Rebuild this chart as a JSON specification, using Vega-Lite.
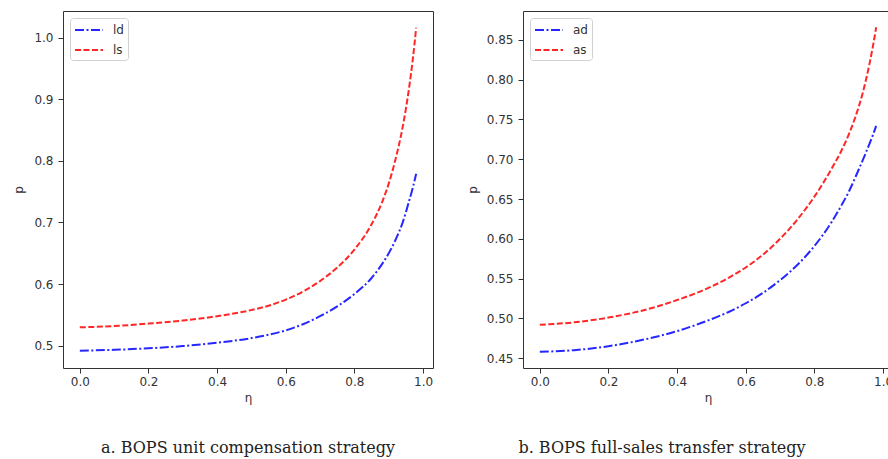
{
  "$schema": "https://vega.github.io/schema/vega-lite/v6.json",
  "background": "white",
  "padding": {"left": 12, "top": 10, "right": 0, "bottom": 0},
  "config": {
    "view": {"stroke": "#333333", "strokeWidth": 1},
    "font": "DejaVu Sans",
    "axis": {
      "grid": false, "domain": false, "tickColor": "#333333", "tickSize": 5,
      "labelColor": "#333333", "labelFontSize": 12, "labelFont": "DejaVu Sans", "labelPadding": 5,
      "titleColor": "#333333", "titleFontSize": 12, "titleFont": "DejaVu Sans", "titleFontWeight": "normal"
    },
    "axisX": {"labelPadding": 3},
    "legend": {
      "orient": "top-left", "offset": 7, "fillColor": "white", "strokeColor": "#d0d0d0",
      "cornerRadius": 3, "padding": 4, "labelFontSize": 12, "labelColor": "#333333",
      "labelFont": "DejaVu Sans", "symbolType": "M-1,0L3,0", "symbolSize": 196, "symbolStrokeWidth": 2,
      "rowPadding": 6, "labelOffset": 23
    },
    "title": {"font": "DejaVu Serif", "fontSize": 16, "fontWeight": "normal", "color": "#222222", "orient": "bottom", "anchor": "middle"}
  },
  "datasets": {
    "left": [
      {"eta": 0.0, "p": 0.492, "s": "ld"}, {"eta": 0.1, "p": 0.4935, "s": "ld"}, {"eta": 0.2, "p": 0.496, "s": "ld"},
      {"eta": 0.3, "p": 0.4995, "s": "ld"}, {"eta": 0.4, "p": 0.505, "s": "ld"}, {"eta": 0.5, "p": 0.5125, "s": "ld"},
      {"eta": 0.55, "p": 0.518, "s": "ld"}, {"eta": 0.6, "p": 0.525, "s": "ld"}, {"eta": 0.65, "p": 0.535, "s": "ld"},
      {"eta": 0.7, "p": 0.548, "s": "ld"}, {"eta": 0.75, "p": 0.564, "s": "ld"}, {"eta": 0.8, "p": 0.584, "s": "ld"},
      {"eta": 0.85, "p": 0.610, "s": "ld"}, {"eta": 0.88, "p": 0.632, "s": "ld"}, {"eta": 0.9, "p": 0.650, "s": "ld"},
      {"eta": 0.92, "p": 0.672, "s": "ld"}, {"eta": 0.94, "p": 0.699, "s": "ld"}, {"eta": 0.96, "p": 0.736, "s": "ld"},
      {"eta": 0.97, "p": 0.756, "s": "ld"}, {"eta": 0.98, "p": 0.779, "s": "ld"},
      {"eta": 0.0, "p": 0.530, "s": "ls"}, {"eta": 0.1, "p": 0.532, "s": "ls"}, {"eta": 0.2, "p": 0.536, "s": "ls"},
      {"eta": 0.3, "p": 0.541, "s": "ls"}, {"eta": 0.4, "p": 0.548, "s": "ls"}, {"eta": 0.5, "p": 0.558, "s": "ls"},
      {"eta": 0.55, "p": 0.565, "s": "ls"}, {"eta": 0.6, "p": 0.575, "s": "ls"}, {"eta": 0.65, "p": 0.588, "s": "ls"},
      {"eta": 0.7, "p": 0.605, "s": "ls"}, {"eta": 0.75, "p": 0.627, "s": "ls"}, {"eta": 0.8, "p": 0.656, "s": "ls"},
      {"eta": 0.85, "p": 0.697, "s": "ls"}, {"eta": 0.88, "p": 0.732, "s": "ls"}, {"eta": 0.9, "p": 0.763, "s": "ls"},
      {"eta": 0.92, "p": 0.803, "s": "ls"}, {"eta": 0.94, "p": 0.853, "s": "ls"}, {"eta": 0.96, "p": 0.921, "s": "ls"},
      {"eta": 0.97, "p": 0.964, "s": "ls"}, {"eta": 0.98, "p": 1.016, "s": "ls"}
    ],
    "right": [
      {"eta": 0.0, "p": 0.458, "s": "ad"}, {"eta": 0.1, "p": 0.460, "s": "ad"}, {"eta": 0.2, "p": 0.465, "s": "ad"},
      {"eta": 0.3, "p": 0.473, "s": "ad"}, {"eta": 0.4, "p": 0.484, "s": "ad"}, {"eta": 0.5, "p": 0.499, "s": "ad"},
      {"eta": 0.55, "p": 0.508, "s": "ad"}, {"eta": 0.6, "p": 0.519, "s": "ad"}, {"eta": 0.65, "p": 0.532, "s": "ad"},
      {"eta": 0.7, "p": 0.548, "s": "ad"}, {"eta": 0.75, "p": 0.567, "s": "ad"}, {"eta": 0.8, "p": 0.591, "s": "ad"},
      {"eta": 0.85, "p": 0.621, "s": "ad"}, {"eta": 0.88, "p": 0.643, "s": "ad"}, {"eta": 0.9, "p": 0.659, "s": "ad"},
      {"eta": 0.92, "p": 0.678, "s": "ad"}, {"eta": 0.94, "p": 0.698, "s": "ad"}, {"eta": 0.96, "p": 0.719, "s": "ad"},
      {"eta": 0.97, "p": 0.730, "s": "ad"}, {"eta": 0.98, "p": 0.742, "s": "ad"},
      {"eta": 0.0, "p": 0.492, "s": "as"}, {"eta": 0.1, "p": 0.495, "s": "as"}, {"eta": 0.2, "p": 0.501, "s": "as"},
      {"eta": 0.3, "p": 0.510, "s": "as"}, {"eta": 0.4, "p": 0.523, "s": "as"}, {"eta": 0.5, "p": 0.540, "s": "as"},
      {"eta": 0.55, "p": 0.551, "s": "as"}, {"eta": 0.6, "p": 0.564, "s": "as"}, {"eta": 0.65, "p": 0.580, "s": "as"},
      {"eta": 0.7, "p": 0.600, "s": "as"}, {"eta": 0.75, "p": 0.624, "s": "as"}, {"eta": 0.8, "p": 0.653, "s": "as"},
      {"eta": 0.85, "p": 0.688, "s": "as"}, {"eta": 0.88, "p": 0.712, "s": "as"}, {"eta": 0.9, "p": 0.731, "s": "as"},
      {"eta": 0.92, "p": 0.754, "s": "as"}, {"eta": 0.94, "p": 0.782, "s": "as"}, {"eta": 0.96, "p": 0.819, "s": "as"},
      {"eta": 0.97, "p": 0.841, "s": "as"}, {"eta": 0.98, "p": 0.866, "s": "as"}
    ]
  },
  "hconcat": [
    {
      "width": 370, "height": 357,
      "title": {"text": "a. BOPS unit compensation strategy", "offset": 37},
      "data": {"name": "left"},
      "mark": {"type": "line", "strokeWidth": 2, "interpolate": "monotone", "opacity": 0.85},
      "encoding": {
        "x": {"field": "eta", "type": "quantitative", "title": "η",
          "scale": {"domain": [-0.049, 1.029], "nice": false, "zero": false},
          "axis": {"values": [0, 0.2, 0.4, 0.6, 0.8, 1.0], "format": ".1f", "titlePadding": 5}},
        "y": {"field": "p", "type": "quantitative", "title": "p",
          "scale": {"domain": [0.464, 1.043], "nice": false, "zero": false},
          "axis": {"values": [0.5, 0.6, 0.7, 0.8, 0.9, 1.0], "format": ".1f", "titlePadding": 8}},
        "color": {"field": "s", "type": "nominal", "title": null,
          "scale": {"domain": ["ld", "ls"], "range": ["#0000ff", "#ff0000"]}},
        "strokeDash": {"field": "s", "type": "nominal", "title": null,
          "scale": {"domain": ["ld", "ls"], "range": [[9, 2.5, 2, 2.5], [6, 2.5]]}}
      }
    },
    {
      "width": 370, "height": 357,
      "title": {"text": "b. BOPS full-sales transfer strategy", "offset": 37, "dx": -46},
      "data": {"name": "right"},
      "mark": {"type": "line", "strokeWidth": 2, "interpolate": "monotone", "opacity": 0.85},
      "encoding": {
        "x": {"field": "eta", "type": "quantitative", "title": "η",
          "scale": {"domain": [-0.049, 1.029], "nice": false, "zero": false},
          "axis": {"values": [0, 0.2, 0.4, 0.6, 0.8, 1.0], "format": ".1f", "titlePadding": 5}},
        "y": {"field": "p", "type": "quantitative", "title": "p",
          "scale": {"domain": [0.4376, 0.8864], "nice": false, "zero": false},
          "axis": {"values": [0.45, 0.5, 0.55, 0.6, 0.65, 0.7, 0.75, 0.8, 0.85], "format": ".2f", "titlePadding": 7}},
        "color": {"field": "s", "type": "nominal", "title": null,
          "scale": {"domain": ["ad", "as"], "range": ["#0000ff", "#ff0000"]}},
        "strokeDash": {"field": "s", "type": "nominal", "title": null,
          "scale": {"domain": ["ad", "as"], "range": [[9, 2.5, 2, 2.5], [6, 2.5]]}}
      }
    }
  ],
  "spacing": 90,
  "bounds": "flush",
  "resolve": {"scale": {"color": "independent", "strokeDash": "independent", "y": "independent", "x": "independent"}, "legend": {"color": "independent", "strokeDash": "independent"}}
}
